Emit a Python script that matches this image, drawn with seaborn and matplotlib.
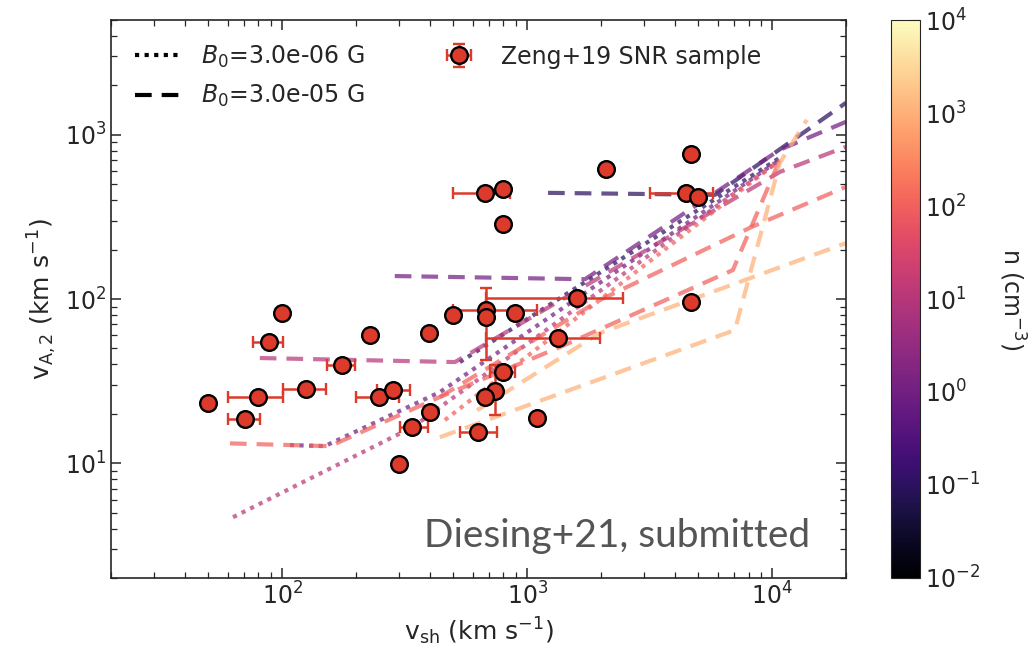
import numpy as np
import pandas as pd
import matplotlib
matplotlib.use("Agg")
import matplotlib.pyplot as plt
import seaborn as sns
from matplotlib.colors import LogNorm
from matplotlib.lines import Line2D

# Zeng+19 SNR sample
sample_vsh = [49.7, 70.4, 79.6, 88.3, 100, 125, 175.5, 228, 248, 283, 299, 339, 398, 401,
              498, 678, 678, 891, 1596, 1336, 796, 738, 671, 1096, 630,
              2094, 4656, 4446, 4977, 4656, 671, 796, 796]
sample_va = [23.2, 18.5, 25.2, 54.7, 82.2, 28.2, 39.6, 60.3, 25.2, 27.9, 9.87, 16.6, 62.1, 20.5,
             79.8, 85.7, 77.6, 82.2, 101.4, 57.8, 35.9, 27.5, 25.2, 18.8, 15.5,
             621, 766, 443, 419, 96, 443, 469, 286]
# lower / upper bounds of the error bars (0 = no bar)
sample_vsh_lo = [0, 60, 60, 75.8, 0, 100.7, 152, 0, 200, 244, 0, 302, 0, 0,
                 0, 498, 0, 0, 678, 678, 705, 0, 0, 0, 531,
                 0, 0, 3162, 0, 0, 498, 0, 0]
sample_vsh_hi = [0, 81.1, 100.7, 100.7, 0, 151, 198, 0, 300, 331, 0, 393, 0, 0,
                 0, 1096, 0, 0, 2455, 1982, 891, 0, 0, 0, 752,
                 0, 0, 5718, 0, 0, 851, 0, 0]
sample_va_lo = [0, 0, 0, 0, 0, 0, 0, 0, 0, 0, 0, 0, 0, 0,
                0, 42.5, 0, 0, 0, 0, 0, 19.6, 0, 0, 0,
                0, 0, 0, 0, 0, 0, 0, 0]
sample_va_hi = [0, 0, 0, 0, 0, 0, 0, 0, 0, 0, 0, 0, 0, 0,
                0, 116.6, 0, 0, 0, 0, 0, 39.6, 0, 0, 0,
                0, 0, 0, 0, 0, 0, 0, 0]

# model tracks, B0 = 3e-5 G (dashed)
d_n01_vsh = [1216, 5840, 20000]
d_n01_va = [443, 431, 1567]
d_n1_vsh = [288, 1722, 10740, 20000]
d_n1_va = [138, 132, 811, 1200]
d_n10_vsh = [81, 507, 10740, 20000]
d_n10_va = [43.7, 41.3, 594, 845]
d_n100a_vsh = [61.2, 156.6, 440, 1361, 6907, 10740]
d_n100a_va = [13.2, 12.7, 25.3, 51, 150, 705]
d_n100b_vsh = [440, 1982, 8260, 20000]
d_n100b_va = [25.3, 98.6, 275, 482]
d_n1000a_vsh = [440, 7040, 10740, 13840]
d_n1000a_va = [14.4, 64.7, 675, 1234]
d_n1000b_vsh = [624, 1982, 20000]
d_n1000b_va = [21.0, 62.1, 219]

# model tracks, B0 = 3e-6 G (dotted)
s_n01_vsh = [531, 10740]
s_n01_va = [41.3, 725]
s_n1_vsh = [107.5, 149, 440, 10740]
s_n1_va = [12.9, 12.7, 27.1, 705]
s_n10_vsh = [63, 341, 10740]
s_n10_va = [4.69, 16.6, 700]
s_n100_vsh = [461, 10740]
s_n100_va = [18.3, 700]

tracks = [
    ("d01", 3e-5, 0.1, d_n01_vsh, d_n01_va),
    ("d1", 3e-5, 1, d_n1_vsh, d_n1_va),
    ("d10", 3e-5, 10, d_n10_vsh, d_n10_va),
    ("d100a", 3e-5, 100, d_n100a_vsh, d_n100a_va),
    ("d100b", 3e-5, 100, d_n100b_vsh, d_n100b_va),
    ("d1000a", 3e-5, 1000, d_n1000a_vsh, d_n1000a_va),
    ("d1000b", 3e-5, 1000, d_n1000b_vsh, d_n1000b_va),
    ("s01", 3e-6, 0.1, s_n01_vsh, s_n01_va),
    ("s1", 3e-6, 1, s_n1_vsh, s_n1_va),
    ("s10", 3e-6, 10, s_n10_vsh, s_n10_va),
    ("s100", 3e-6, 100, s_n100_vsh, s_n100_va),
]
rows = []
for name, b0, n, xs, ys in tracks:
    for xv, yv in zip(xs, ys):
        rows.append({"track": name, "B0": b0, "n": n, "vsh": xv, "va": yv})
lines_df = pd.DataFrame(rows)

sns.set_style("ticks")
plt.rcParams["font.family"] = ["DejaVu Sans"]

fig = plt.figure(figsize=(10.35, 6.46), dpi=100)
ax = fig.add_axes([0.1072, 0.1053, 0.7102, 0.8637])
cax = fig.add_axes([0.861, 0.1053, 0.028, 0.8637])

norm = LogNorm(1e-2, 1e4)
sns.lineplot(data=lines_df, x="vsh", y="va", hue="n", hue_norm=norm, palette="magma",
             style="B0", dashes={3e-6: (1, 1.3), 3e-5: (4, 2.4)}, units="track",
             estimator=None, sort=False, alpha=0.72, lw=3.0, legend=False, ax=ax)

x = np.array(sample_vsh)
y = np.array(sample_va)
xlo = np.where(np.array(sample_vsh_lo) > 0, x - np.array(sample_vsh_lo), 0)
xhi = np.where(np.array(sample_vsh_hi) > 0, np.array(sample_vsh_hi) - x, 0)
ylo = np.where(np.array(sample_va_lo) > 0, y - np.array(sample_va_lo), 0)
yhi = np.where(np.array(sample_va_hi) > 0, np.array(sample_va_hi) - y, 0)
red = "#dc3a2b"
eb = ax.errorbar(x, y, xerr=[xlo, xhi], yerr=[ylo, yhi], fmt="o", ms=12,
                 mfc=red, mec="black", mew=1.7, ecolor=red, elinewidth=1.8,
                 capsize=4, capthick=1.8, zorder=5, label="Zeng+19 SNR sample")

ax.set_xscale("log")
ax.set_yscale("log")
ax.set_xlim(20, 2e4)
ax.set_ylim(2, 5000)
ax.set_xlabel(r"$\mathrm{v_{sh}}$ (km s$^{-1}$)", fontsize=18)
ax.set_ylabel(r"$\mathrm{v_{A,2}}$ (km s$^{-1}$)", fontsize=18)
ax.tick_params(which="both", direction="in", top=True, right=True, labelsize=17)
ax.tick_params(which="major", length=7, width=1.1)
ax.tick_params(which="minor", length=4, width=0.9)
for sp in ax.spines.values():
    sp.set_linewidth(1.2)

handles = [Line2D([], [], color="black", ls=(0, (1, 1.3)), lw=3.0),
           Line2D([], [], color="black", ls=(0, (4, 2.4)), lw=3.0),
           eb]
labels = [r"$B_0$=3.0e-06 G", r"$B_0$=3.0e-05 G", "Zeng+19 SNR sample"]
ax.legend(handles, labels, loc="upper left", ncol=2, frameon=False, fontsize=17,
          handlelength=2.0, columnspacing=3.0, borderaxespad=0.6, labelspacing=0.55)

ax.text(0.951, 0.055, "Diesing+21, submitted", transform=ax.transAxes, ha="right",
        va="baseline", fontsize=28, color="#555555", family=["Lato", "DejaVu Sans"])

sm = plt.cm.ScalarMappable(norm=norm, cmap="magma")
cb = fig.colorbar(sm, cax=cax)
cb.set_label(r"n (cm$^{-3}$)", rotation=270, labelpad=34, fontsize=17)
cb.ax.tick_params(which="both", direction="in", labelsize=17)
cb.ax.tick_params(which="major", length=7)
cb.ax.tick_params(which="minor", length=4)

fig.savefig("out.png", dpi=100)
